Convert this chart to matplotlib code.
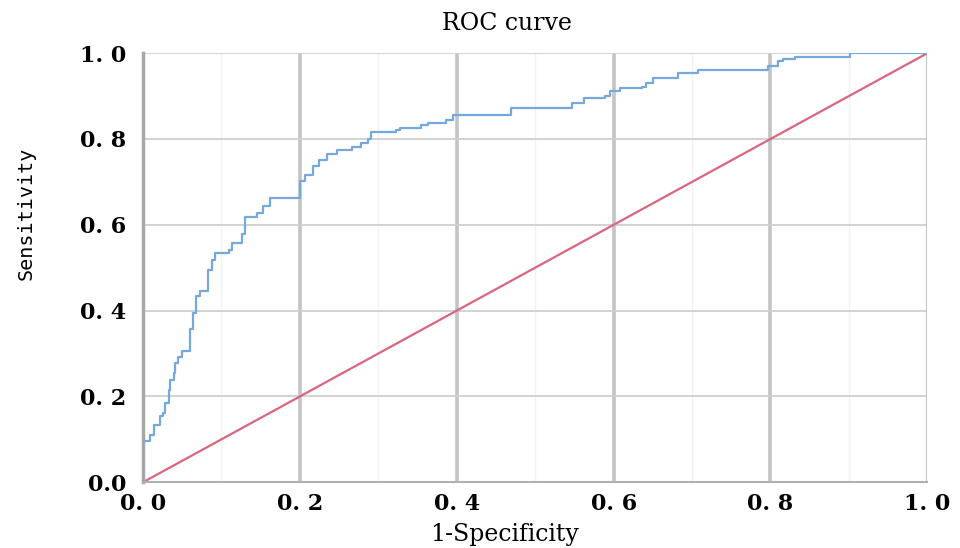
import numpy as np
import matplotlib
matplotlib.use("Agg")
import matplotlib.pyplot as plt

# ROC curve (step corners: fpr where jump happens, new tpr)
fpr = [0.0, 0.0, 0.009, 0.014, 0.022, 0.026, 0.028, 0.033, 0.035, 0.039, 0.041,
       0.045, 0.050, 0.060, 0.064, 0.067, 0.073, 0.083, 0.088, 0.092, 0.109,
       0.113, 0.126, 0.130, 0.145, 0.153, 0.162, 0.200, 0.206, 0.217, 0.224,
       0.234, 0.247, 0.266, 0.278, 0.287, 0.291, 0.323, 0.327, 0.354, 0.363,
       0.386, 0.395, 0.469, 0.547, 0.562, 0.589, 0.596, 0.608, 0.636, 0.641,
       0.650, 0.682, 0.707, 0.797, 0.810, 0.816, 0.831, 0.901, 1.0]
tpr = [0.0, 0.095, 0.111, 0.134, 0.154, 0.161, 0.185, 0.216, 0.239, 0.255, 0.278,
       0.293, 0.305, 0.356, 0.394, 0.433, 0.445, 0.495, 0.519, 0.534, 0.542,
       0.557, 0.578, 0.619, 0.627, 0.643, 0.662, 0.703, 0.716, 0.736, 0.750,
       0.765, 0.774, 0.781, 0.790, 0.800, 0.816, 0.821, 0.825, 0.833, 0.838,
       0.844, 0.856, 0.872, 0.885, 0.895, 0.900, 0.911, 0.918, 0.922, 0.930,
       0.942, 0.953, 0.961, 0.969, 0.981, 0.986, 0.992, 1.0, 1.0]
ref_line = [0.0, 1.0]
ticks = [0.0, 0.2, 0.4, 0.6, 0.8, 1.0]
tick_labels = ["0. 0", "0. 2", "0. 4", "0. 6", "0. 8", "1. 0"]
ytick_labels = ["0.0", "0. 2", "0. 4", "0. 6", "0. 8", "1. 0"]

fig = plt.figure(figsize=(9.6, 5.48), dpi=100)
ax = fig.add_axes([0.149, 0.120, 0.817, 0.783])

# grid
for x in ticks[1:-1]:
    ax.axvline(x, color="#c4c4c4", lw=2.6, zorder=0)
for x in [0.1, 0.3, 0.5, 0.7, 0.9]:
    ax.axvline(x, color="#f2f2f2", lw=1.0, zorder=0)
for y in ticks[1:]:
    ax.axhline(y, color="#cfcfcf", lw=1.3, zorder=0)

ax.plot(ref_line, ref_line, color="#d9657e", lw=1.6, zorder=2)
ax.plot(fpr, tpr, drawstyle="steps-post", color="#76a8de", lw=1.6, zorder=3)

ax.set_xlim(0, 1)
ax.set_ylim(0, 1)
for side in ["top", "right"]:
    ax.spines[side].set_visible(False)
ax.spines["left"].set_color("#a8a8a8")
ax.spines["left"].set_linewidth(2.5)
ax.spines["bottom"].set_color("#b0b0b0")
ax.spines["bottom"].set_linewidth(1.5)
ax.axvline(1.0, color="#c4c4c4", lw=1.5, zorder=0)

ax.set_xticks(ticks)
ax.set_xticklabels(tick_labels, family="DejaVu Serif", fontsize=16,
                   fontweight="bold")
ax.set_yticks(ticks)
ax.set_yticklabels(ytick_labels, family="DejaVu Serif", fontsize=16,
                   fontweight="bold")
ax.tick_params(axis="y", length=0, pad=12)
ax.tick_params(axis="x", length=0, pad=8)

fig.text(0.528, 0.957, "ROC curve", family="DejaVu Serif", fontsize=17,
         ha="center", va="center")
fig.text(0.526, 0.024, "1-Specificity", family="DejaVu Serif", fontsize=17,
         ha="center", va="center")
fig.text(0.027, 0.61, "Sensitivity", family="DejaVu Sans Mono", fontsize=14.5,
         rotation=90, ha="center", va="center")

fig.savefig("out.png", dpi=100, facecolor="white")
